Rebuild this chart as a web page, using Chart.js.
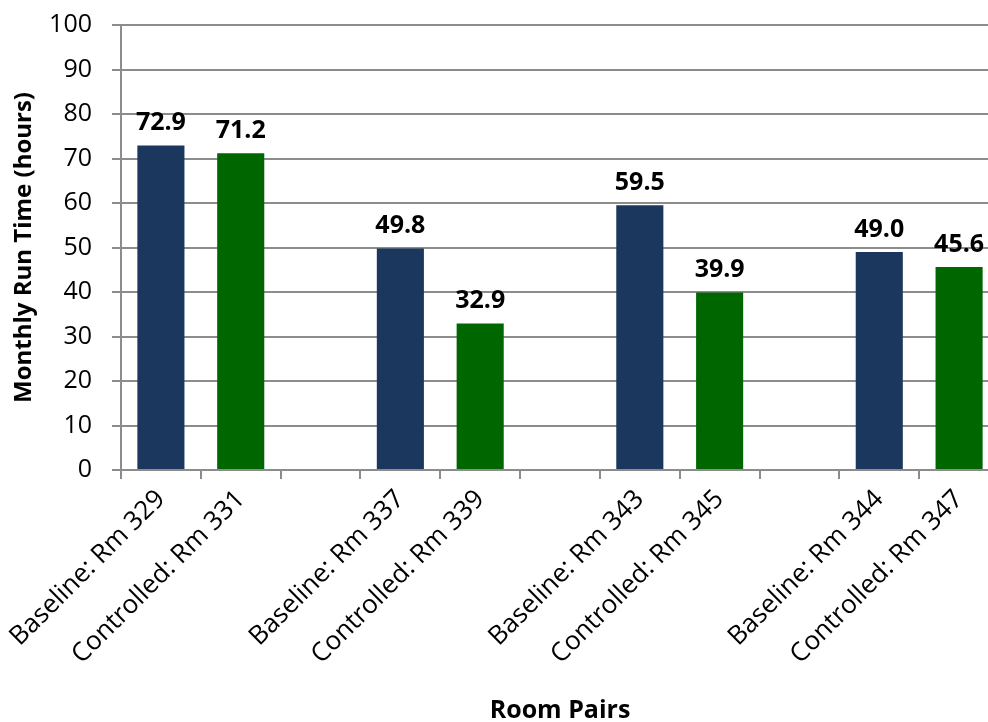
<!DOCTYPE html>
<html>
<head>
<meta charset="utf-8">
<script src="https://cdn.jsdelivr.net/npm/chart.js@4.4.0/dist/chart.umd.min.js"></script>
<style>
  html, body { margin: 0; padding: 0; background: #fff; overflow: hidden; }
  #wrap { position: relative; width: 1000px; height: 722px; }
</style>
</head>
<body>
<div id="wrap"><canvas id="runTimeChart" width="1000" height="722"></canvas></div>
<script>
// room pairs, with empty slots between the pairs
const rooms = [
    "Baseline: Rm 329", "Controlled: Rm 331", "",
    "Baseline: Rm 337", "Controlled: Rm 339", "",
    "Baseline: Rm 343", "Controlled: Rm 345", "",
    "Baseline: Rm 344", "Controlled: Rm 347"
];
const runHours = [72.9, 71.2, null, 49.8, 32.9, null, 59.5, 39.9, null, 49.0, 45.6];
const roomKind = ["base", "ctrl", "", "base", "ctrl", "", "base", "ctrl", "", "base", "ctrl"];
const yTicks = [0, 10, 20, 30, 40, 50, 60, 70, 80, 90, 100];

const NAVY = "#1b375d";
const GREEN = "#006600";
const GRID = "#8c8c8c";
const FONT = "'Open Sans', sans-serif";

const valueLabels = {
    id: "valueLabels",
    afterDatasetsDraw(chart) {
        const ctx = chart.ctx;
        const meta = chart.getDatasetMeta(0);
        ctx.save();
        ctx.font = "bold 25px " + FONT;
        ctx.fillStyle = "#000";
        ctx.textAlign = "center";
        ctx.textBaseline = "bottom";
        meta.data.forEach((bar, i) => {
            const v = runHours[i];
            if (v === null) return;
            ctx.fillText(v.toFixed(1), bar.x, bar.y - 10);
        });
        ctx.restore();
    }
};

const ctx = document.getElementById("runTimeChart").getContext("2d");
new Chart(ctx, {
    type: "bar",
    data: {
        labels: rooms,
        datasets: [{
            data: runHours,
            backgroundColor: roomKind.map(k => k === "ctrl" ? GREEN : NAVY),
            borderWidth: 0,
            categoryPercentage: 1,
            barPercentage: 0.59,
        }]
    },
    options: {
        responsive: false,
        animation: false,
        layout: { padding: { top: 25, right: 1, left: 0, bottom: 0 } },
        plugins: {
            legend: { display: false },
            tooltip: { enabled: false }
        },
        scales: {
            x: {
                grid: {
                    offset: true,
                    drawOnChartArea: false,
                    drawTicks: true,
                    tickLength: 9,
                    color: GRID,
                    lineWidth: 2,
                },
                border: { color: GRID, width: 2 },
                ticks: {
                    font: { family: FONT, size: 26 },
                    color: "#000",
                    minRotation: 45,
                    maxRotation: 45,
                    autoSkip: false,
                    padding: 5,
                },
                title: {
                    display: true,
                    text: "Room Pairs",
                    font: { family: FONT, size: 25, weight: "bold" },
                    color: "#000",
                    padding: { top: 0, bottom: -4 },
                },
                afterFit: (scale) => {
                    scale.height = 252;
                    scale.paddingLeft = 0;
                    scale.paddingRight = 0;
                }
            },
            y: {
                min: 0,
                max: 100,
                afterBuildTicks: (scale) => {
                    scale.ticks = yTicks.map(v => ({ value: v }));
                },
                grid: {
                    color: GRID,
                    lineWidth: 2,
                    drawTicks: true,
                    tickLength: 9,
                },
                border: { color: GRID, width: 2 },
                ticks: {
                    font: { family: FONT, size: 25 },
                    color: "#000",
                    padding: 20,
                },
                title: {
                    display: true,
                    text: "Monthly Run Time (hours)",
                    font: { family: FONT, size: 24, weight: "bold" },
                    color: "#000",
                    padding: { top: 10, bottom: 0 },
                },
                afterFit: (scale) => {
                    scale.width = 121;
                    scale.paddingTop = 0;
                    scale.paddingBottom = 0;
                }
            }
        }
    },
    plugins: [valueLabels]
});
</script>
</body>
</html>
